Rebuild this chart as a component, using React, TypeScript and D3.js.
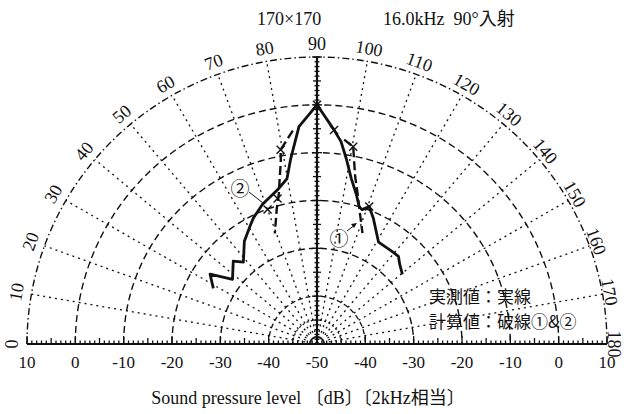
import React from 'react';
import * as d3 from 'd3';

// ---- data (angle in degrees: 0 = left, 90 = top, 180 = right; level in dB) ----
const angleTicks = [0, 10, 20, 30, 40, 50, 60, 70, 80, 90, 100, 110, 120, 130, 140, 150, 160, 170, 180];
const levelTicks = [10, 0, -10, -20, -30, -40];
const ringLevels = [0, -10, -20, -30];

const measuredAngle = [28.5, 33.4, 37.7, 45.0, 48.3, 55.0, 61.2, 63.6, 68.9, 75.9, 79.8, 82.0, 85.3, 90, 94.5, 96.7, 98.9, 101.6, 104.6, 106.9, 108.4, 110.6, 114.0, 120.9, 128.5, 132.6, 135.7, 140.5];
const measuredDb = [-25.6, -23.5, -27.9, -25.5, -27.1, -23.8, -21.5, -20.5, -18.7, -16.7, -14.9, -10.9, -4.4, 0, -5.1, -7.4, -10.8, -14.7, -17.7, -20.0, -20.4, -19.3, -21.3, -25.2, -25.2, -25.1, -26.1, -27.1];

const calc1Angle = [97.5, 100.3, 101.4, 102.7, 104.7, 107.3, 110.0, 112.1];
const calc1Db = [-6.9, -8.1, -11.1, -14.1, -17.1, -20.5, -23.2, -25.0];

const calc2Angle = [83.6, 79.5, 78.9, 77.4, 75.9, 73.6, 71.6, 69.3];
const calc2Db = [-5.1, -8.7, -11.1, -14.6, -17.6, -20.5, -23.0, -25.3];

const markerAngle = [90, 94.5, 100.3, 110.6, 79.5, 75.0, 70.0];
const markerDb = [0, -5.1, -8.1, -19.3, -8.7, -18.5, -20.1];

const titleLeft = '170×170';
const titleRight = '16.0kHz  90°入射';
const axisTitle = 'Sound pressure level 〔dB〕〔2kHz相当〕';
const legend1 = '実測値：実線';
const legend2 = '計算値：破線①&②';

// ---- geometry ----
const W = 626, H = 414;
const cx = 317, cy = 344;
const rX = d3.scaleLinear().domain([-50, 10]).range([0, 290]);
const rY = d3.scaleLinear().domain([-50, 10]).range([0, 287]);
const pt = (a: number, db: number): [number, number] => {
  const t = (a * Math.PI) / 180;
  return [cx - rX(db) * Math.cos(t), cy - rY(db) * Math.sin(t)];
};
const line = d3.line<[number, number]>().x(d => d[0]).y(d => d[1]);
const arc = (db: number) => line(d3.range(0, 180.01, 1).map(a => pt(a, db)));

const serif = "'Liberation Serif', 'DejaVu Serif', serif";
const cjk = "'Noto Sans CJK JP', sans-serif";

export default function App() {
  const measured = measuredAngle.map((a, i) => pt(a, measuredDb[i]));
  const calc1 = calc1Angle.map((a, i) => pt(a, calc1Db[i]));
  const calc2 = calc2Angle.map((a, i) => pt(a, calc2Db[i]));
  const ticks1 = d3.range(-50, 10.01, 1);

  return (
    <svg width={W} height={H} style={{ position: 'absolute', left: 0, top: 0, background: '#fff' }}>
      <rect width={W} height={H} fill="#fff" />
      {/* rings */}
      <path d={arc(10)!} fill="none" stroke="#111" strokeWidth={1.4} strokeDasharray="7,3,1.5,3" />
      {ringLevels.map(l => (
        <path key={l} d={arc(l)!} fill="none" stroke="#111" strokeWidth={1.4} strokeDasharray="7,4" />
      ))}
      <path d={arc(-40)!} fill="none" stroke="#111" strokeWidth={1.3} strokeDasharray="5,3" />
      <path d={arc(-45)!} fill="none" stroke="#111" strokeWidth={1.2} strokeDasharray="2,2.5" />
      {/* radials */}
      {angleTicks.filter(a => a !== 0 && a !== 90 && a !== 180).map(a => {
        const [x1, y1] = pt(a, -50);
        const [x2, y2] = pt(a, 10);
        return <line key={a} x1={x1} y1={y1} x2={x2} y2={y2} stroke="#111" strokeWidth={1.3} strokeDasharray="2,4" />;
      })}
      {/* baseline */}
      <line x1={pt(0, 10)[0]} y1={cy} x2={pt(180, 10)[0]} y2={cy} stroke="#111" strokeWidth={2.2} />
      {ticks1.map(v => {
        const h = v % 10 === 0 ? 8 : v % 5 === 0 ? 6 : 3.5;
        const xl = pt(0, v)[0];
        const xr = pt(180, v)[0];
        return (
          <g key={v}>
            <line x1={xl} y1={cy} x2={xl} y2={cy - h} stroke="#111" strokeWidth={1.3} />
            <line x1={xr} y1={cy} x2={xr} y2={cy - h} stroke="#111" strokeWidth={1.3} />
          </g>
        );
      })}
      {/* vertical axis */}
      <line x1={cx} y1={cy} x2={cx} y2={pt(90, 10)[1]} stroke="#111" strokeWidth={2.2} />
      {ticks1.map(v => {
        const w = v % 10 === 0 ? 5 : v % 5 === 0 ? 4 : 2.5;
        const y = pt(90, v)[1];
        return <line key={v} x1={cx - w} y1={y} x2={cx + w} y2={y} stroke="#111" strokeWidth={1.3} />;
      })}
      {/* angle labels */}
      {angleTicks.map(a => {
        const t = (a * Math.PI) / 180;
        const x = cx - (301 + 4 * Math.cos(t)) * Math.cos(t);
        const y = cy - 300 * Math.sin(t);
        return (
          <text key={a} x={x} y={y} transform={`rotate(${a - 90},${x},${y})`} textAnchor="middle"
            dominantBaseline="central" fontFamily={serif} fontSize={18} fill="#111">{a}</text>
        );
      })}
      {/* level labels */}
      {levelTicks.map(v => (
        <g key={v}>
          <text x={pt(0, v)[0]} y={362} textAnchor="middle" dominantBaseline="central" fontFamily={serif} fontSize={17} fill="#111">{v}</text>
          <text x={pt(180, v)[0]} y={362} textAnchor="middle" dominantBaseline="central" fontFamily={serif} fontSize={17} fill="#111">{v}</text>
        </g>
      ))}
      <text x={cx} y={362} textAnchor="middle" dominantBaseline="central" fontFamily={serif} fontSize={17} fill="#111">-50</text>
      {/* data */}
      <path d={line(calc1)!} fill="none" stroke="#111" strokeWidth={2.4} strokeDasharray="9,4" />
      <path d={line(calc2)!} fill="none" stroke="#111" strokeWidth={2.4} strokeDasharray="9,4" />
      <path d={line(measured)!} fill="none" stroke="#111" strokeWidth={2.8} strokeLinejoin="round" />
      {markerAngle.map((a, i) => {
        const [x, y] = pt(a, markerDb[i]);
        return (
          <g key={i} stroke="#111" strokeWidth={1.4}>
            <line x1={x - 4} y1={y - 4} x2={x + 4} y2={y + 4} />
            <line x1={x - 4} y1={y + 4} x2={x + 4} y2={y - 4} />
          </g>
        );
      })}
      {/* annotations */}
      <text x={240} y={187} textAnchor="middle" dominantBaseline="central" fontFamily={cjk} fontSize={19} fill="#111">②</text>
      <line x1={249} y1={192} x2={263} y2={203} stroke="#111" strokeWidth={1} />
      <text x={339} y={237} textAnchor="middle" dominantBaseline="central" fontFamily={cjk} fontSize={19} fill="#111">①</text>
      <line x1={347} y1={231} x2={356} y2={224} stroke="#111" strokeWidth={1} />
      <path d="M357,223 L351,224 L354,228 Z" fill="#111" />
      {/* titles */}
      <text x={257} y={19} dominantBaseline="central" fontFamily={serif} fontSize={18} fill="#111">{titleLeft}</text>
      <text x={383} y={19} dominantBaseline="central" fontFamily={`${serif}, ${cjk}`} fontSize={18} fill="#111" style={{ whiteSpace: 'pre' }}>{titleRight}</text>
      <text x={429} y={295} dominantBaseline="central" fontFamily={cjk} fontSize={17} fill="#111">{legend1}</text>
      <text x={429} y={320} dominantBaseline="central" fontFamily={cjk} fontSize={17} fill="#111">{legend2}</text>
      <text x={308} y={398} textAnchor="middle" dominantBaseline="central" fontFamily={`${serif}, ${cjk}`} fontSize={18} fill="#111">{axisTitle}</text>
    </svg>
  );
}
